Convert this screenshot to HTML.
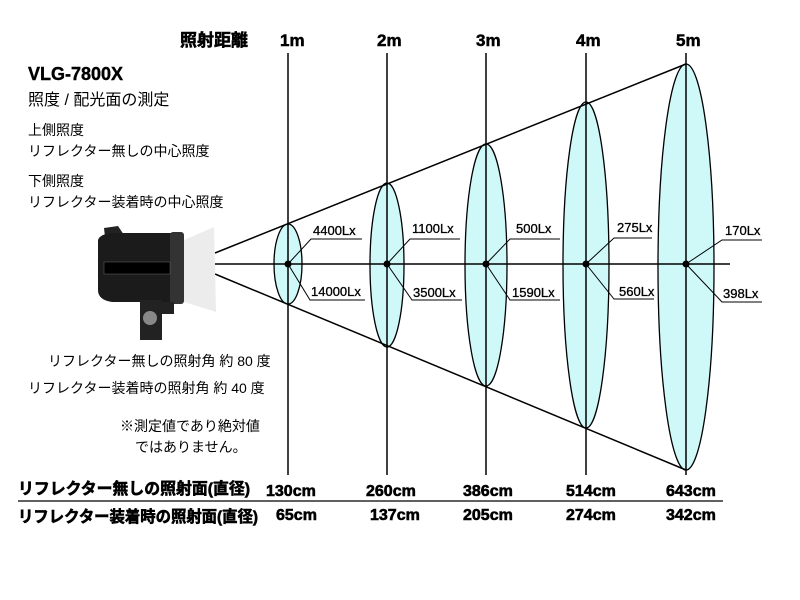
<!DOCTYPE html>
<html><head><meta charset="utf-8"><style>
body{margin:0;background:#fff;}
svg{display:block;font-family:"Liberation Sans","Noto Sans CJK JP",sans-serif;}
.b{font-weight:bold;}
</style></head><body>
<svg width="800" height="600" viewBox="0 0 800 600">
<g fill="#cff8f8" stroke="#000" stroke-width="1.3">
<ellipse cx="288" cy="264" rx="14" ry="40"/>
<ellipse cx="387" cy="265" rx="17" ry="82"/>
<ellipse cx="486" cy="265" rx="21" ry="121"/>
<ellipse cx="586" cy="265" rx="23" ry="163"/>
<ellipse cx="686" cy="267" rx="28" ry="203"/>
</g>
<g stroke="#000" stroke-width="1.5" fill="none">
<line x1="215" y1="253" x2="686" y2="64"/>
<line x1="215" y1="274" x2="686" y2="470"/>
<line x1="215" y1="264" x2="730" y2="264"/>
<line x1="288" y1="53" x2="288" y2="475"/>
<line x1="387" y1="53" x2="387" y2="475"/>
<line x1="486" y1="53" x2="486" y2="475"/>
<line x1="586" y1="53" x2="586" y2="475"/>
<line x1="686" y1="53" x2="686" y2="475"/>
<line x1="18" y1="501" x2="723" y2="501" stroke-width="1.2"/>
</g>
<g stroke="#000" stroke-width="1" fill="none">
<polyline points="288,264 311,239 362,239"/><polyline points="288,264 310,300 365,300"/>
<polyline points="387,264 410,239 460,239"/><polyline points="387,264 412,300 462,300"/>
<polyline points="486,264 510,239 560,239"/><polyline points="486,264 510,300 560,300"/>
<polyline points="586,264 614,238 652,238"/><polyline points="586,264 614,299 654,299"/>
<polyline points="686,264 722,240 762,240"/><polyline points="686,264 722,302 762,302"/>
</g>
<g fill="#000"><circle cx="288" cy="264" r="3.5"/><circle cx="387" cy="264" r="3.5"/><circle cx="486" cy="264" r="3.5"/><circle cx="586" cy="264" r="3.5"/><circle cx="686" cy="264" r="3.5"/></g>
<g font-size="13" fill="#000" stroke="#000" stroke-width="0.3">
<text x="313" y="235">4400Lx</text><text x="311" y="296">14000Lx</text>
<text x="412" y="233">1100Lx</text><text x="413" y="297">3500Lx</text>
<text x="516" y="233">500Lx</text><text x="512" y="297">1590Lx</text>
<text x="617" y="232">275Lx</text><text x="619" y="296">560Lx</text>
<text x="725" y="235">170Lx</text><text x="723" y="298">398Lx</text>
</g>
<g class="b" font-size="17" stroke="#000" stroke-width="0.5">
<text x="180" y="46">照射距離</text>
<text x="280" y="46">1m</text><text x="377" y="46">2m</text><text x="476" y="46">3m</text><text x="576" y="46">4m</text><text x="676" y="46">5m</text>
</g>
<text x="28" y="80" class="b" font-size="18" stroke="#000" stroke-width="0.4">VLG-7800X</text>
<text x="28" y="105" font-size="16">照度 / 配光面の測定</text>
<g font-size="14"><text x="28" y="135">上側照度</text><text x="28" y="156">リフレクター無しの中心照度</text>
<text x="28" y="186">下側照度</text><text x="28" y="207">リフレクター装着時の中心照度</text>
<text x="48" y="366">リフレクター無しの照射角 約 80 度</text>
<text x="28" y="393">リフレクター装着時の照射角 約 40 度</text>
<text x="120" y="431">※測定値であり絶対値</text><text x="135" y="452">ではありません。</text></g>
<g>
<path d="M104 228 L118 226 L126 238 L106 246 Z" fill="#222"/>
<path d="M98 240 Q100 234 112 233 L180 233 L182 302 L112 302 Q98 300 98 290 Z" fill="#1b1b1b"/>
<rect x="170" y="232" width="14" height="72" rx="3" fill="#333"/>
<path d="M184 240 L214 227 L216 312 L184 302 Z" fill="#ececec"/>
<rect x="104" y="262" width="66" height="12" fill="#000" stroke="#666" stroke-width="0.5"/>
<rect x="140" y="300" width="22" height="40" fill="#222"/>
<circle cx="150" cy="318" r="7" fill="#888"/>
<rect x="160" y="302" width="14" height="12" fill="#222"/>
</g>
<g class="b" font-size="16" stroke="#000" stroke-width="0.6">
<text x="18" y="494" textLength="232" lengthAdjust="spacingAndGlyphs">リフレクター無しの照射面(直径)</text>
<text x="18" y="522" textLength="240" lengthAdjust="spacingAndGlyphs">リフレクター装着時の照射面(直径)</text>
<text x="266" y="496">130cm</text><text x="366" y="496">260cm</text><text x="463" y="496">386cm</text><text x="566" y="496">514cm</text><text x="666" y="496">643cm</text>
<text x="276" y="520">65cm</text><text x="370" y="520">137cm</text><text x="463" y="520">205cm</text><text x="566" y="520">274cm</text><text x="666" y="520">342cm</text>
</g>
</svg>
</body></html>
